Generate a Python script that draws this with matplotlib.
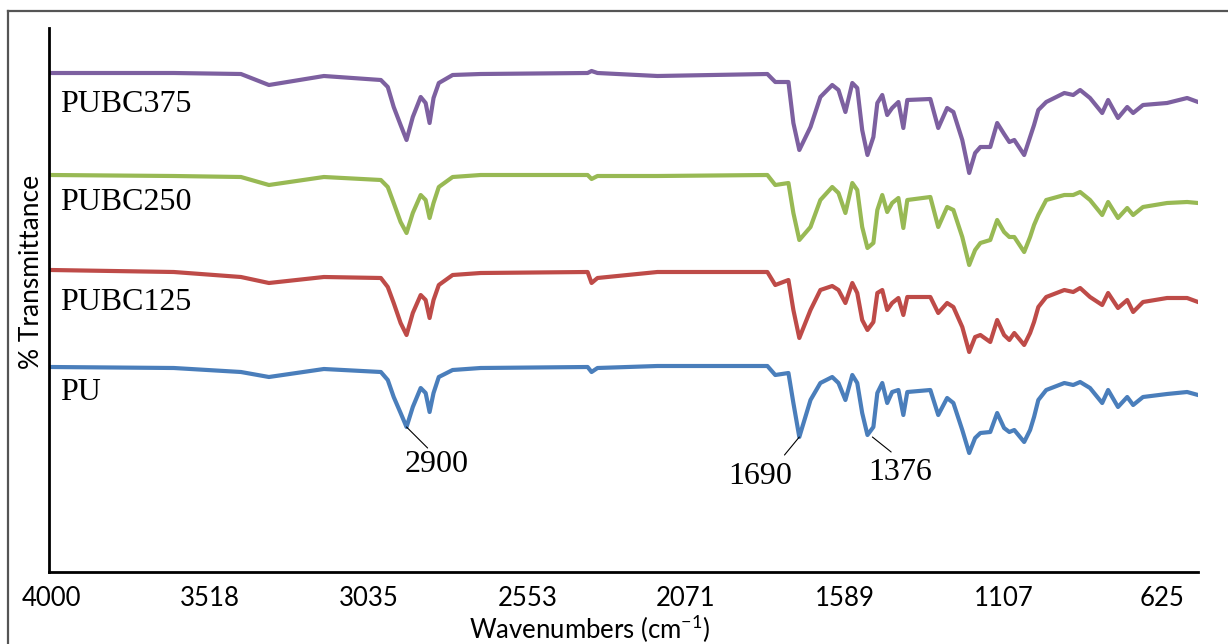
import matplotlib
matplotlib.use('Agg')
import matplotlib.pyplot as plt
from matplotlib.lines import Line2D

plt.rcParams['mathtext.fontset'] = 'custom'
plt.rcParams['mathtext.rm'] = 'Lato'
SANS = ['Lato', 'DejaVu Sans']
SERIF = ['Liberation Serif', 'DejaVu Serif']

# 파수 (cm-1) — 모든 스펙트럼 공통
wavenumber = [4000, 3627, 3423, 3338, 3171, 2998, 2977, 2959, 2938, 2920,
              2901, 2877, 2862, 2850, 2838, 2822, 2780, 2695, 2370, 2358,
              2340, 2158, 1824, 1800, 1760, 1745, 1727, 1693, 1663, 1627,
              1608, 1587, 1566, 1551, 1536, 1520, 1502, 1490, 1475, 1460,
              1445, 1426, 1411, 1399, 1329, 1305, 1278, 1259, 1232, 1211,
              1193, 1177, 1147, 1126, 1105, 1089, 1074, 1044, 1026, 1014,
              1001, 977, 922, 895, 874, 844, 807, 789, 759, 731,
              713, 683, 610, 549, 516]

# % 투과율 (오프셋 포함)
t_pu = [205, 204, 200, 195, 203, 200, 192, 175, 159, 145,
        165, 184, 179, 160, 179, 195, 202, 204, 205, 200,
        204, 206, 206, 197, 199, 169, 135, 172, 189, 195,
        189, 172, 197, 189, 159, 137, 145, 179, 189, 169,
        180, 182, 157, 180, 182, 157, 174, 169, 142, 119,
        134, 139, 140, 159, 144, 140, 142, 130, 142, 155,
        172, 182, 189, 187, 190, 184, 169, 182, 165, 175,
        167, 175, 178, 180, 177]
t_pubc125 = [302, 300, 295, 289, 295, 294, 285, 269, 249, 237,
             259, 277, 272, 254, 272, 287, 297, 299, 300, 289,
             294, 300, 300, 287, 292, 262, 234, 262, 282, 286,
             282, 269, 289, 279, 252, 242, 250, 279, 282, 262,
             269, 274, 257, 275, 275, 259, 269, 265, 245, 220,
             235, 237, 230, 252, 237, 232, 239, 227, 239, 250,
             265, 275, 282, 280, 284, 275, 267, 279, 264, 272,
             260, 270, 274, 274, 270]
t_pubc250 = [397, 396, 395, 387, 395, 392, 385, 369, 350, 339,
             359, 377, 372, 354, 369, 385, 395, 397, 397, 393,
             396, 396, 397, 387, 389, 359, 332, 345, 372, 385,
             379, 359, 389, 382, 345, 324, 329, 362, 377, 360,
             369, 374, 344, 372, 375, 345, 365, 362, 335, 307,
             322, 329, 332, 352, 340, 335, 335, 320, 335, 347,
             357, 372, 377, 377, 380, 372, 357, 370, 354, 364,
             357, 365, 369, 370, 369]
t_pubc375 = [499, 499, 498, 487, 496, 492, 485, 465, 447, 432,
             455, 475, 469, 449, 474, 489, 497, 498, 499, 501,
             499, 496, 498, 490, 490, 449, 422, 445, 475, 487,
             482, 460, 489, 484, 442, 417, 435, 469, 477, 457,
             464, 470, 444, 472, 473, 444, 464, 460, 432, 399,
             419, 425, 425, 449, 438, 430, 432, 417, 435, 447,
             462, 470, 479, 477, 482, 474, 459, 472, 454, 465,
             459, 467, 469, 474, 470]

series = [('PU', t_pu, '#4A7EBB'),
          ('PUBC125', t_pubc125, '#BE4B48'),
          ('PUBC250', t_pubc250, '#98B954'),
          ('PUBC375', t_pubc375, '#7D60A0')]
label_y = {'PU': 179, 'PUBC125': 269, 'PUBC250': 370, 'PUBC375': 467}

xticks = [4000, 3518, 3035, 2553, 2071, 1589, 1107, 625]

# 피크 표시: (라벨, 피크 위치, 지시선 끝, 글자 위치)
peaks = [('2900', (2920, 145), (2856, 124), (2828, 107)),
         ('1690', (1727, 135), (1772, 117), (1845, 95)),
         ('1376', (1505, 135), (1448, 120), (1420, 100))]

fig = plt.figure(figsize=(12.28, 6.44), dpi=100)
ax = fig.add_axes([49/1228, 72/644, 1149/1228, 544/644])

for name, t, c in series:
    ax.plot(wavenumber, t, color=c, lw=3.0, solid_joinstyle='round')
    ax.text(3973, label_y[name], name, family=SERIF, fontsize=23,
            ha='left', va='center')

for lab, pk, end, txt in peaks:
    ax.annotate('', xy=pk, xytext=end,
                arrowprops=dict(arrowstyle='-', color='k', lw=0.8,
                                shrinkA=0, shrinkB=0))
    ax.text(txt[0], txt[1], lab, family=SERIF, fontsize=23,
            ha='center', va='center')

ax.set_xlim(4006, 516)
ax.set_ylim(0, 544)
ax.set_xticks(xticks)
ax.set_xticklabels([str(v) for v in xticks], family=SANS, fontsize=18.5)
ax.set_yticks([])
ax.tick_params(axis='x', length=0, pad=10)
for s in ['top', 'right']:
    ax.spines[s].set_visible(False)
for s in ['left', 'bottom']:
    ax.spines[s].set_linewidth(2)
    ax.spines[s].set_color('black')

fig.text(32/1228, 1 - 272/644, '% Transmittance', rotation=90,
         family=SANS, fontsize=19, ha='center', va='center')
fig.text(590/1228, 1 - 629/644, r'Wavenumbers (cm$^{\mathregular{-1}}$)',
         family=SANS, fontsize=18.5, ha='center', va='center')

# 바깥 테두리 (왼쪽, 위)
fig.add_artist(Line2D([8/1228, 8/1228], [0, 1 - 11/644], color='#555555',
                      lw=1.6, transform=fig.transFigure))
fig.add_artist(Line2D([8/1228, 1], [1 - 11/644, 1 - 11/644], color='#555555',
                      lw=1.6, transform=fig.transFigure))

fig.savefig('out.png', dpi=100)
